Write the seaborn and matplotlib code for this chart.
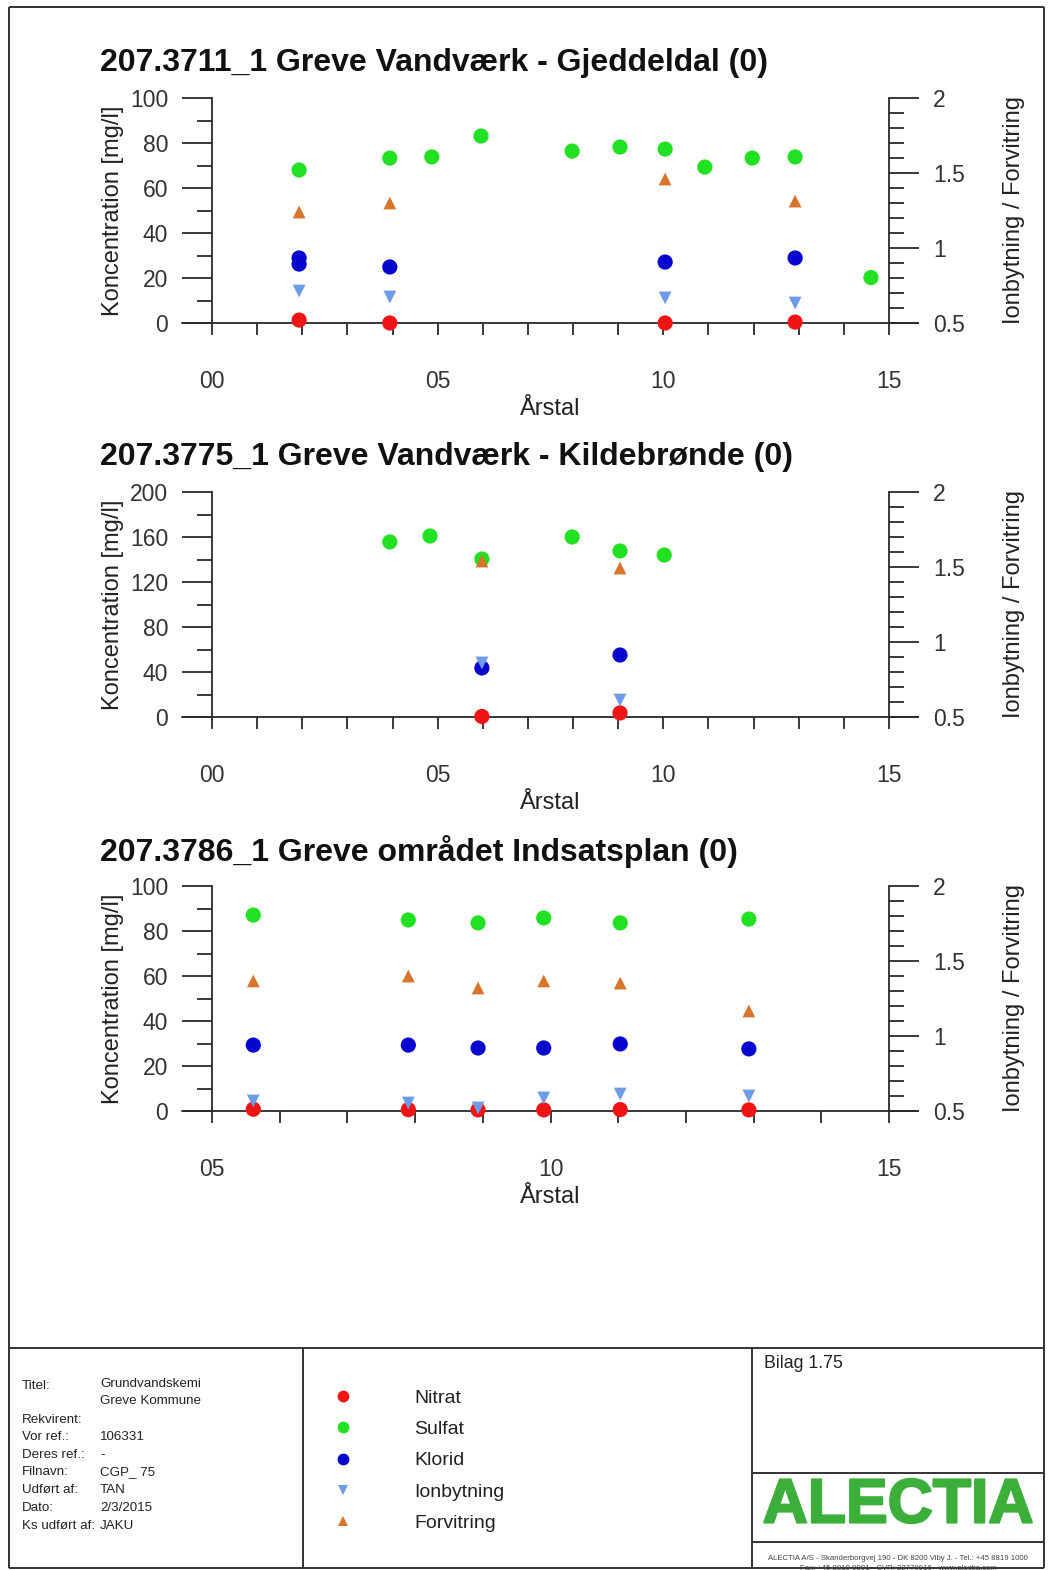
import matplotlib
matplotlib.use("Agg")
import matplotlib.pyplot as plt
import matplotlib.ticker as mticker
import matplotlib.patheffects as pe
from matplotlib import font_manager
from matplotlib.lines import Line2D
import seaborn as sns
import pandas as pd

# ---------------- data ----------------
title_1 = "207.3711_1 Greve Vandværk - Gjeddeldal (0)"
title_2 = "207.3775_1 Greve Vandværk - Kildebrønde (0)"
title_3 = "207.3786_1 Greve området Indsatsplan (0)"

series_names = ["Nitrat", "Sulfat", "Klorid", "Ionbytning", "Forvitring"]

# panel 1 (x = years after 2000)
p1_nitrat_year = [1.93, 3.94, 10.04, 12.92]
p1_nitrat = [1.3, 0.0, 0.0, 0.4]
p1_sulfat_year = [1.93, 3.94, 4.87, 5.96, 7.98, 9.04, 10.04, 10.92, 11.97, 12.92, 14.60]
p1_sulfat = [68.0, 73.3, 73.8, 83.1, 76.4, 78.2, 77.3, 69.3, 73.3, 73.8, 20.2]
p1_klorid_year = [1.93, 1.93, 3.94, 10.04, 12.92]
p1_klorid = [28.9, 26.2, 24.9, 27.1, 28.9]
p1_ion_year = [1.93, 3.94, 10.04, 12.92]
p1_ion = [0.713, 0.673, 0.667, 0.633]
p1_forv_year = [1.93, 3.94, 10.04, 12.92]
p1_forv = [1.24, 1.30, 1.46, 1.313]

# panel 2
p2_nitrat_year = [5.98, 9.04]
p2_nitrat = [0.5, 3.6]
p2_sulfat_year = [3.94, 4.83, 5.98, 7.98, 9.04, 10.02]
p2_sulfat = [155.6, 160.9, 140.4, 160.0, 147.6, 144.0]
p2_klorid_year = [5.98, 9.04]
p2_klorid = [43.6, 55.1]
p2_ion_year = [5.98, 9.04]
p2_ion = [0.86, 0.613]
p2_forv_year = [5.98, 9.04]
p2_forv = [1.54, 1.493]

# panel 3
p3_year = [5.61, 7.90, 8.93, 9.90, 11.03, 12.93]
p3_nitrat = [0.8, 0.6, 0.5, 0.5, 0.6, 0.5]
p3_sulfat = [87.1, 84.9, 83.6, 85.8, 83.6, 85.3]
p3_klorid = [29.3, 29.3, 28.0, 28.0, 29.8, 27.6]
p3_ion = [0.567, 0.553, 0.52, 0.587, 0.613, 0.600]
p3_forv = [1.367, 1.40, 1.32, 1.367, 1.353, 1.167]

p12_xticks = [0, 5, 10, 15]
p12_xticklabels = ["00", "05", "10", "15"]
p3_xticks = [5, 10, 15]
p3_xticklabels = ["05", "10", "15"]

left_label = "Koncentration [mg/l]"
right_label = "Ionbytning / Forvitring"
x_label = "Årstal"

footer_keys = ["Titel:", "", "Rekvirent:", "Vor ref.:", "Deres ref.:", "Filnavn:",
               "Udført af:", "Dato:", "Ks udført af:"]
footer_vals = ["Grundvandskemi", "Greve Kommune", "", "106331", "-", "CGP_ 75",
               "TAN", "2/3/2015", "JAKU"]
bilag_text = "Bilag 1.75"
logo_text = "ALECTIA"
address_1 = "ALECTIA A/S - Skanderborgvej 190 - DK 8200 Viby J. - Tel.: +45 8819 1000"
address_2 = "Fax: +45 8819 9991 - CVR: 22770916 - www.alectia.com"

# ---------------- style ----------------
col_nitrat = "#f01414"
col_sulfat = "#22e022"
col_klorid = "#0606cf"
col_ion = "#6e9be8"
col_forv = "#d9742c"
axcol = "#2a2a2a"

sns.set_theme(style="ticks")
plt.rcParams["font.family"] = ["Liberation Sans", "DejaVu Sans"]

names = {f.name for f in font_manager.fontManager.ttflist}
has_narrow = "Liberation Sans Narrow" in names
narrow_family = ["Liberation Sans Narrow", "Liberation Sans", "DejaVu Sans"]

W, H = 1049, 1570
fig = plt.figure(figsize=(W / 100, H / 100), dpi=100)

# overlay axes in pixel coordinates for the frame/footer
ov = fig.add_axes([0, 0, 1, 1])
ov.set_xlim(0, W)
ov.set_ylim(H, 0)
ov.axis("off")
lw_frame = 1.4
for (xs, ys) in [([9, 1044], [7, 7]), ([9, 9], [7, 1568]), ([1044, 1044], [7, 1568]),
                 ([9, 1044], [1568, 1568]), ([9, 1044], [1348, 1348]),
                 ([303, 303], [1348, 1568]), ([752, 752], [1348, 1568]),
                 ([752, 1044], [1473, 1473]), ([752, 1044], [1542, 1542])]:
    ov.plot(xs, ys, color="#333333", lw=lw_frame, solid_capstyle="butt")

foot_size = 11 if has_narrow else 9.6
rows_y = [1386, 1401, 1420, 1437, 1455, 1472, 1490, 1508, 1526]
for k, v, yy in zip(footer_keys, footer_vals, rows_y):
    if k:
        ov.text(22, yy, k, fontsize=foot_size, family=narrow_family, va="center", ha="left", color="#222")
    if v:
        ov.text(100, yy - (2 if k == "Titel:" else 0), v, fontsize=foot_size, family=narrow_family,
                va="center", ha="left", color="#222")
ov.text(764, 1364, bilag_text, fontsize=(15.5 if has_narrow else 12.8), family=narrow_family,
        va="center", ha="left", color="#222")
ov.text(898, 1506, logo_text, fontsize=45, fontweight="bold", color="#3cae3a",
        va="center", ha="center",
        path_effects=[pe.withStroke(linewidth=1.6, foreground="#3cae3a")])
ov.text(898, 1558, address_1, fontsize=5.6, va="center", ha="center", color="#444")
ov.text(898, 1569, address_2, fontsize=5.6, va="center", ha="center", color="#444")


def px_rect(left, top, right, bottom):
    return [left / W, 1 - bottom / H, (right - left) / W, (bottom - top) / H]


def draw(ax, years, vals, color, marker, size):
    df = pd.DataFrame({"year": years, "value": vals})
    sns.scatterplot(data=df, x="year", y="value", ax=ax, color=color, marker=marker,
                    s=size, edgecolor="none", linewidth=0, clip_on=False, zorder=3,
                    legend=False)


panels = [
    dict(title=title_1, top=98, bottom=323, xlim=(0, 15), xt=p12_xticks, xtl=p12_xticklabels,
         ymax=100, ystep=20,
         nit=(p1_nitrat_year, p1_nitrat), sul=(p1_sulfat_year, p1_sulfat),
         klo=(p1_klorid_year, p1_klorid), ion=(p1_ion_year, p1_ion), forv=(p1_forv_year, p1_forv)),
    dict(title=title_2, top=492, bottom=717, xlim=(0, 15), xt=p12_xticks, xtl=p12_xticklabels,
         ymax=200, ystep=40,
         nit=(p2_nitrat_year, p2_nitrat), sul=(p2_sulfat_year, p2_sulfat),
         klo=(p2_klorid_year, p2_klorid), ion=(p2_ion_year, p2_ion), forv=(p2_forv_year, p2_forv)),
    dict(title=title_3, top=886, bottom=1111, xlim=(5, 15), xt=p3_xticks, xtl=p3_xticklabels,
         ymax=100, ystep=20,
         nit=(p3_year, p3_nitrat), sul=(p3_year, p3_sulfat),
         klo=(p3_year, p3_klorid), ion=(p3_year, p3_ion), forv=(p3_year, p3_forv)),
]

s_circle = 120
s_tri = 85
lw_ax = 1.3
lab_fs = 17
tick_fs = 16.5

for p in panels:
    ax = fig.add_axes(px_rect(212, p["top"], 889, p["bottom"]))
    ax.patch.set_visible(False)
    ax2 = ax.twinx()
    draw(ax, *p["nit"], col_nitrat, "o", s_circle)
    draw(ax, *p["sul"], col_sulfat, "o", s_circle)
    draw(ax, *p["klo"], col_klorid, "o", s_circle)
    draw(ax2, *p["ion"], col_ion, "v", s_tri)
    draw(ax2, *p["forv"], col_forv, "^", s_tri)

    ax.set_xlim(*p["xlim"])
    ax.set_ylim(0, p["ymax"])
    ax2.set_ylim(0.5, 2.0)

    ax.xaxis.set_major_locator(mticker.FixedLocator(p["xt"]))
    ax.xaxis.set_major_formatter(mticker.FixedFormatter(p["xtl"]))
    ax.xaxis.set_minor_locator(mticker.MultipleLocator(1))
    ax.yaxis.set_major_locator(mticker.MultipleLocator(p["ystep"]))
    ax.yaxis.set_minor_locator(mticker.MultipleLocator(p["ystep"] / 2))
    ax2.yaxis.set_major_locator(mticker.MultipleLocator(0.5))
    ax2.yaxis.set_minor_locator(mticker.MultipleLocator(0.1))
    ax2.yaxis.set_major_formatter(mticker.FuncFormatter(lambda v, pos: f"{v:g}"))

    for s in ["top", "bottom", "right"]:
        ax.spines[s].set_visible(False)
    for s in ["top", "bottom", "left"]:
        ax2.spines[s].set_visible(False)
    ax.spines["left"].set_linewidth(lw_ax)
    ax.spines["left"].set_color(axcol)
    ax2.spines["right"].set_linewidth(lw_ax)
    ax2.spines["right"].set_color(axcol)
    ax.axhline(0, xmin=-30 / 677, xmax=1 + 29 / 677, color=axcol, lw=lw_ax, clip_on=False, zorder=2)

    ax.tick_params(axis="y", which="major", left=True, right=False, direction="out", length=21.6,
                   width=lw_ax, pad=10, labelsize=tick_fs, color=axcol, labelcolor="#333")
    ax.tick_params(axis="y", which="minor", left=True, right=False, direction="out", length=10.8,
                   width=lw_ax, color=axcol)
    ax.tick_params(axis="x", which="both", bottom=True, top=False, direction="out", length=8.6,
                   width=lw_ax, pad=25, labelsize=tick_fs, color=axcol, labelcolor="#333")
    ax2.tick_params(axis="y", which="major", right=True, left=False, direction="out", length=21.6,
                    width=lw_ax, pad=10, labelsize=tick_fs, color=axcol, labelcolor="#333")
    ax2.tick_params(axis="y", which="minor", right=True, left=False, direction="out", length=10.8,
                    width=lw_ax, color=axcol)

    ax.set_xlabel(x_label, fontsize=lab_fs, labelpad=4, color="#222")
    ax.set_ylabel(left_label, fontsize=lab_fs, labelpad=4.5, color="#222")
    ax2.set_ylabel(right_label, fontsize=lab_fs, labelpad=27.5, color="#222")
    ax2.set_xlabel("")

    fig.text(100 / W, 1 - (p["top"] - 35) / H, p["title"], fontsize=23, fontweight="bold",
             ha="left", va="center", color="#111")

# legend
handles = [
    Line2D([], [], ls="none", marker="o", markersize=8.5, color=col_nitrat, markeredgewidth=0),
    Line2D([], [], ls="none", marker="o", markersize=8.5, color=col_sulfat, markeredgewidth=0),
    Line2D([], [], ls="none", marker="o", markersize=8.5, color=col_klorid, markeredgewidth=0),
    Line2D([], [], ls="none", marker="v", markersize=7.5, color=col_ion, markeredgewidth=0),
    Line2D([], [], ls="none", marker="^", markersize=7.5, color=col_forv, markeredgewidth=0),
]
fig.legend(handles, series_names, loc="upper left",
           bbox_to_anchor=(333.3 / W, 1 - 1389 / H), bbox_transform=fig.transFigure,
           frameon=False, fontsize=14, handlelength=1, handletextpad=3.16,
           labelspacing=0.71, borderpad=0, borderaxespad=0, labelcolor="#222")

fig.savefig("out.png", dpi=100)
